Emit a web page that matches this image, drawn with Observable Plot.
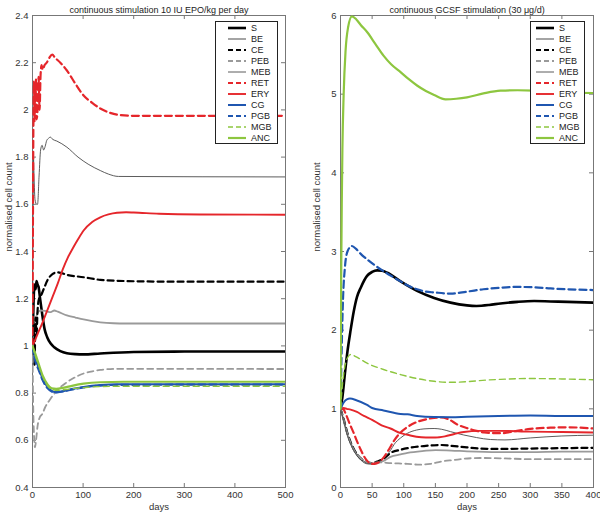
<!DOCTYPE html>
<html><head><meta charset="utf-8">
<script src="https://cdn.jsdelivr.net/npm/d3@7"></script>
<script src="https://cdn.jsdelivr.net/npm/@observablehq/plot@0.6"></script>
<style>
body{margin:0;background:#fff;}
#wrap{position:relative;width:600px;height:516px;overflow:hidden;font-family:"Liberation Sans",Arial,sans-serif;background:#fff;}
.panel{position:absolute;top:0;}
.legend{position:absolute;background:#fff;border:1px solid #222;font-size:9px;color:#222;box-sizing:border-box;padding-top:1px;}
.legend .row{height:10.93px;display:flex;align-items:center;white-space:nowrap;}
.legend svg{display:block;flex:none;}
</style></head><body><div id="wrap"></div>
<script>
// ---------- DATA ----------
const seriesNames = ["S","BE","CE","PEB","MEB","RET","ERY","CG","PGB","MGB","ANC"];

// Left panel: continuous EPO stimulation  [day, normalised count]
const epoS   = [[0,1],[2,1.18],[4,1.26],[6,1.24],[8,1.275],[10,1.26],[12,1.25],[15,1.2],[19,1.137],[24,1.07],[29,1.037],[36,1.01],[43,0.994],[55,0.978],[68,0.969],[85,0.965],[101,0.964],[134,0.968],[200,0.974],[300,0.976],[500,0.976]];
const epoBE  = [[0,1],[3,1.05],[6,1.1],[10,1.14],[16,1.15],[25,1.148],[36,1.143],[43,1.15],[50,1.145],[68,1.129],[85,1.12],[101,1.112],[134,1.1],[160,1.096],[184,1.095],[500,1.095]];
const epoCE  = [[0,1],[2,1.1],[4,0.92],[6,1.12],[8,1.05],[10,1.15],[13,1.2],[16,1.21],[22,1.24],[30,1.28],[40,1.305],[49,1.312],[70,1.3],[101,1.291],[134,1.28],[200,1.274],[300,1.272],[500,1.272]];
const epoPEB = [[0,1],[1,0.8],[3,0.62],[5,0.57],[7,0.6],[10,0.66],[15,0.7],[19,0.71],[25,0.74],[36,0.777],[50,0.815],[68,0.846],[85,0.868],[101,0.883],[120,0.893],[134,0.898],[167,0.903],[500,0.902]];
const epoMEB = [[0,1],[1,1.5],[2,1.8],[3,1.72],[5,1.62],[8,1.6],[10,1.6],[13,1.72],[16,1.83],[19,1.85],[22,1.83],[25,1.845],[28,1.87],[32,1.88],[35,1.885],[40,1.875],[48,1.868],[68,1.842],[90,1.8],[110,1.77],[134,1.743],[150,1.728],[170,1.718],[500,1.716]];
const epoRET = [[0,1],[1,1.6],[2,2.0],[3,2.12],[4,1.95],[5,2.1],[6,2.05],[7,2.13],[8,1.96],[10,2.0],[12,2.14],[14,2.0],[16,2.15],[18,2.19],[20,2.17],[24,2.19],[28,2.2],[33,2.22],[39,2.234],[45,2.22],[55,2.2],[68,2.167],[85,2.11],[101,2.061],[118,2.03],[134,2.006],[150,1.99],[167,1.98],[200,1.975],[500,1.975]];
const epoERY = [[0,1],[10,1.05],[20,1.1],[30,1.155],[40,1.21],[50,1.265],[60,1.325],[70,1.375],[80,1.415],[90,1.452],[101,1.489],[118,1.525],[134,1.545],[150,1.557],[167,1.564],[185,1.566],[200,1.565],[250,1.56],[332,1.557],[500,1.556]];
const epoCG  = [[0,1],[5,0.95],[12,0.91],[20,0.86],[30,0.825],[40,0.807],[47,0.804],[60,0.808],[80,0.818],[101,0.826],[134,0.834],[170,0.837],[500,0.838]];
const epoPGB = [[0,1],[5,0.94],[12,0.9],[20,0.855],[30,0.82],[40,0.805],[47,0.803],[60,0.807],[80,0.816],[101,0.824],[134,0.832],[170,0.835],[500,0.836]];
const epoMGB = [[0,1],[5,0.96],[12,0.92],[20,0.87],[30,0.83],[40,0.815],[50,0.812],[65,0.815],[85,0.82],[110,0.825],[140,0.828],[180,0.829],[500,0.829]];
const epoANC = [[0,1],[5,0.97],[12,0.925],[20,0.875],[30,0.836],[38,0.82],[47,0.818],[60,0.822],[80,0.832],[101,0.84],[134,0.846],[180,0.848],[500,0.848]];

// Right panel: continuous GCSF stimulation  [day, normalised count]
const gS   = [[0,1],[3,1.15],[7,1.45],[11,1.73],[16,2.0],[21,2.24],[26,2.42],[32,2.54],[42,2.69],[50,2.74],[58,2.76],[66,2.755],[74,2.73],[95,2.62],[121,2.5],[148,2.41],[174,2.35],[200,2.315],[215,2.308],[235,2.32],[253,2.34],[280,2.36],[306,2.37],[332,2.365],[359,2.36],[400,2.35]];
const gBE  = [[0,1],[5,0.85],[11,0.67],[21,0.48],[32,0.36],[43,0.31],[50,0.3],[58,0.31],[69,0.34],[79,0.39],[95,0.42],[106,0.44],[132,0.465],[150,0.475],[175,0.47],[200,0.46],[250,0.45],[300,0.45],[350,0.455],[400,0.455]];
const gCE  = [[0,1],[5,0.87],[11,0.69],[21,0.49],[32,0.37],[43,0.32],[50,0.31],[58,0.33],[69,0.37],[79,0.44],[95,0.48],[106,0.5],[132,0.527],[159,0.54],[175,0.53],[200,0.51],[221,0.495],[250,0.49],[300,0.495],[350,0.5],[400,0.505]];
const gPEB = [[0,1],[5,0.86],[11,0.68],[21,0.48],[32,0.37],[43,0.32],[50,0.31],[58,0.32],[80,0.31],[106,0.3],[125,0.29],[142,0.3],[159,0.33],[180,0.35],[195,0.365],[221,0.375],[260,0.37],[300,0.36],[400,0.36]];
const gMEB = [[0,1],[5,0.85],[11,0.66],[21,0.47],[32,0.35],[43,0.3],[50,0.3],[58,0.32],[69,0.38],[79,0.47],[85,0.55],[95,0.63],[106,0.69],[120,0.73],[132,0.745],[148,0.75],[160,0.74],[174,0.71],[195,0.667],[215,0.635],[237,0.61],[260,0.605],[300,0.63],[350,0.655],[400,0.665]];
const gRET = [[0,1],[4,1.0],[8,0.94],[14,0.82],[21,0.69],[27,0.57],[32,0.48],[40,0.36],[50,0.3],[58,0.31],[69,0.39],[77,0.49],[85,0.6],[95,0.7],[106,0.77],[120,0.83],[132,0.86],[148,0.885],[159,0.89],[170,0.87],[185,0.8],[200,0.755],[215,0.72],[227,0.7],[253,0.69],[279,0.72],[300,0.745],[332,0.76],[360,0.765],[400,0.75]];
const gERY = [[0,1],[5,1.01],[10,1.0],[16,0.99],[26,0.96],[37,0.91],[50,0.86],[65,0.79],[79,0.75],[95,0.69],[106,0.67],[120,0.645],[135,0.635],[150,0.635],[165,0.65],[180,0.68],[195,0.705],[220,0.72],[250,0.72],[300,0.71],[350,0.705],[400,0.7]];
const gCG  = [[0,1],[5,1.08],[10,1.12],[15,1.13],[25,1.11],[42,1.05],[50,1.01],[68,0.98],[95,0.935],[106,0.93],[121,0.91],[148,0.895],[175,0.893],[200,0.9],[250,0.91],[300,0.915],[350,0.91],[400,0.91]];
const gPGB = [[0,1],[2,1.8],[4,2.4],[7,2.8],[11,3.0],[18,3.07],[25,3.03],[32,2.97],[42,2.9],[55,2.82],[68,2.75],[80,2.69],[95,2.62],[108,2.56],[121,2.52],[135,2.49],[148,2.48],[174,2.465],[200,2.49],[226,2.52],[253,2.54],[279,2.55],[306,2.545],[332,2.53],[359,2.52],[400,2.51]];
const gMGB = [[0,1],[3,1.3],[6,1.5],[10,1.63],[16,1.69],[25,1.66],[42,1.58],[68,1.5],[95,1.435],[121,1.385],[148,1.35],[174,1.337],[200,1.345],[230,1.365],[253,1.375],[300,1.385],[350,1.38],[400,1.37]];
const gANC = [[0,1],[1,2.6],[2,3.6],[3,4.3],[5,5.0],[8,5.55],[12,5.85],[18,5.99],[25,5.95],[32,5.88],[42,5.79],[55,5.64],[68,5.49],[80,5.38],[95,5.28],[108,5.19],[121,5.11],[135,5.04],[148,4.99],[166,4.935],[183,4.942],[200,4.96],[226,5.01],[253,5.045],[280,5.05],[306,5.045],[332,5.03],[359,5.02],[400,5.015]];

const epoXTicks = [0,100,200,300,400,500];
const epoYTicks = [0.4,0.6,0.8,1,1.2,1.4,1.6,1.8,2,2.2,2.4];
const gXTicks = [0,50,100,150,200,250,300,350,400];
const gYTicks = [0,1,2,3,4,5,6];

const epoTitle = "continuous stimulation 10 IU EPO/kg per day";
const gTitle = "continuous GCSF stimulation (30 \u03bcg/d)";
const yLabel = "normalised cell count";
const xLabel = "days";

// ---------- STYLE ----------
const RED = "#e5262b", BLUE = "#1f56b0", GREEN = "#8dc63f", GREY = "#9a9a9a";
const styles = {
  S:   {stroke:"#000", w:2.6, dash:null},
  BE:  {stroke:GREY, w:1.8, dash:null},
  CE:  {stroke:"#000", w:2.2, dash:"6,4"},
  PEB: {stroke:GREY, w:1.8, dash:"6,4"},
  MEB: {stroke:"#4a4a4a", w:0.9, dash:null},
  RET: {stroke:RED, w:2.2, dash:"7,4"},
  ERY: {stroke:RED, w:1.9, dash:null},
  CG:  {stroke:BLUE, w:2, dash:null},
  PGB: {stroke:BLUE, w:2.2, dash:"7,4"},
  MGB: {stroke:GREEN, w:1.4, dash:"6,4"},
  ANC: {stroke:GREEN, w:2.2, dash:null}
};

function panel({series, xDomain, yDomain, xTicks, yTicks, title, ml, mr}) {
  const W = 300, H = 516, mt = 15, mb = 29;
  const fw = W - ml - mr, fh = H - mt - mb;
  const fmt = d => String(+d.toFixed(1));
  const tickStroke = "#777";
  const marks = [
    Plot.frame({stroke: "#777"}),
    Plot.tickX(xTicks, {x: d => d, stroke: tickStroke, insetTop: fh - 4}),
    Plot.tickX(xTicks, {x: d => d, stroke: tickStroke, insetBottom: fh - 4}),
    Plot.tickY(yTicks, {y: d => d, stroke: tickStroke, insetRight: fw - 4}),
    Plot.tickY(yTicks, {y: d => d, stroke: tickStroke, insetLeft: fw - 4}),
    Plot.axisX(xTicks, {tickSize: 0, tickPadding: 4, tickFormat: fmt, label: null, fontSize: 9.5}),
    Plot.axisY(yTicks, {tickSize: 0, tickPadding: 4, tickFormat: fmt, label: null, fontSize: 9.5})
  ];
  seriesNames.forEach((n, i) => {
    const s = styles[n];
    marks.push(Plot.line(series[i], {x: d => d[0], y: d => d[1], stroke: s.stroke, strokeWidth: s.w,
      strokeDasharray: s.dash, curve: "monotone-x", clip: true}));
  });
  marks.push(Plot.text([title], {frameAnchor: "top", dy: -9, fontSize: 9, fill: "#222"}));
  marks.push(Plot.text([xLabel], {frameAnchor: "bottom", dy: 22, fontSize: 9.5, fill: "#333"}));
  marks.push(Plot.text([yLabel], {frameAnchor: "left", rotate: -90, dx: -24, fontSize: 9.5, fill: "#333"}));
  return Plot.plot({
    width: W, height: H,
    marginLeft: ml, marginRight: mr, marginTop: mt, marginBottom: mb,
    x: {domain: xDomain, nice: false},
    y: {domain: yDomain, nice: false},
    style: {fontFamily: '"Liberation Sans", Arial, sans-serif', fontSize: "9.5px", color: "#333", background: "white", overflow: "visible"},
    marks
  });
}

function legend(left, top, width, padLeft) {
  const div = document.createElement("div");
  div.className = "legend";
  div.style.left = left + "px";
  div.style.top = top + "px";
  div.style.width = width + "px";
  div.style.height = "123px";
  seriesNames.forEach(n => {
    const s = styles[n];
    const row = document.createElement("div");
    row.className = "row";
    row.style.paddingLeft = padLeft + "px";
    const ns = "http://www.w3.org/2000/svg";
    const svg = document.createElementNS(ns, "svg");
    svg.setAttribute("width", 18); svg.setAttribute("height", 8);
    const ln = document.createElementNS(ns, "line");
    ln.setAttribute("x1", 0); ln.setAttribute("x2", 18); ln.setAttribute("y1", 4); ln.setAttribute("y2", 4);
    ln.setAttribute("stroke", s.stroke); ln.setAttribute("stroke-width", s.w);
    if (s.dash) ln.setAttribute("stroke-dasharray", "5,3");
    svg.appendChild(ln);
    const t = document.createElement("span");
    t.textContent = n;
    t.style.marginLeft = "5px";
    row.appendChild(svg); row.appendChild(t);
    div.appendChild(row);
  });
  return div;
}

const wrap = document.getElementById("wrap");
const p1 = panel({series: [epoS,epoBE,epoCE,epoPEB,epoMEB,epoRET,epoERY,epoCG,epoPGB,epoMGB,epoANC],
  xDomain: [0,500], yDomain: [0.4,2.4], xTicks: epoXTicks, yTicks: epoYTicks, title: epoTitle, ml: 32, mr: 15});
const p2 = panel({series: [gS,gBE,gCE,gPEB,gMEB,gRET,gERY,gCG,gPGB,gMGB,gANC],
  xDomain: [0,400], yDomain: [0,6], xTicks: gXTicks, yTicks: gYTicks, title: gTitle, ml: 40, mr: 7});
const d1 = document.createElement("div"); d1.className = "panel"; d1.style.left = "0px"; d1.appendChild(p1);
const d2 = document.createElement("div"); d2.className = "panel"; d2.style.left = "300px"; d2.appendChild(p2);
wrap.appendChild(d1); wrap.appendChild(d2);
wrap.appendChild(legend(215, 21, 63, 12));
wrap.appendChild(legend(530, 21, 55, 5));
</script></body></html>
